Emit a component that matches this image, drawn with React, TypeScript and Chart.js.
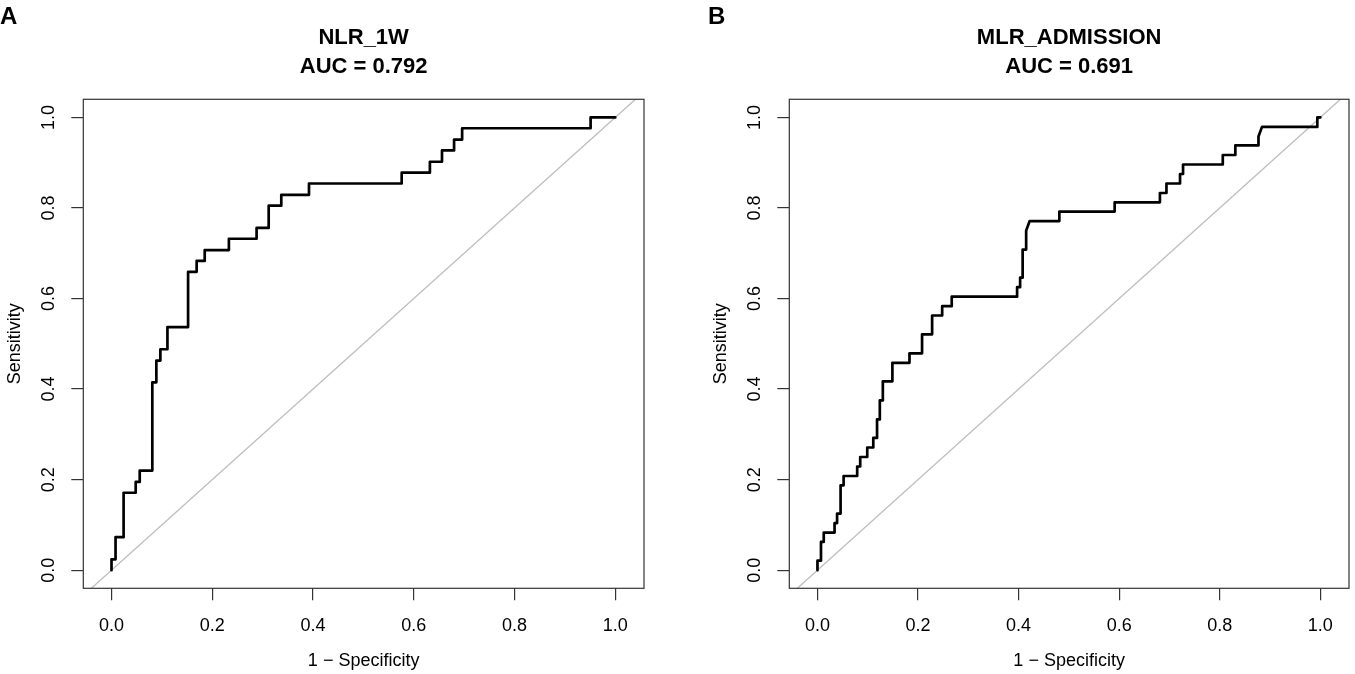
import React, { useEffect, useRef } from "react";
import { Chart, registerables } from "chart.js";

Chart.register(...registerables);

// ---------- data (ROC curve vertices: 1 - specificity, sensitivity) ----------
const fprA = [0, 0, 0.008, 0.008, 0.024, 0.024, 0.048, 0.048, 0.056, 0.056, 0.081, 0.081, 0.089, 0.089, 0.097, 0.097, 0.111, 0.111, 0.152, 0.152, 0.169, 0.169, 0.185, 0.185, 0.233, 0.233, 0.288, 0.288, 0.312, 0.312, 0.337, 0.337, 0.392, 0.392, 0.576, 0.576, 0.632, 0.632, 0.656, 0.656, 0.68, 0.68, 0.696, 0.696, 0.951, 0.951, 1.0];
const tprA = [0, 0.024, 0.024, 0.073, 0.073, 0.171, 0.171, 0.195, 0.195, 0.22, 0.22, 0.415, 0.415, 0.463, 0.463, 0.488, 0.488, 0.537, 0.537, 0.659, 0.659, 0.683, 0.683, 0.707, 0.707, 0.732, 0.732, 0.756, 0.756, 0.805, 0.805, 0.829, 0.829, 0.854, 0.854, 0.878, 0.878, 0.902, 0.902, 0.927, 0.927, 0.951, 0.951, 0.976, 0.976, 1.0, 1.0];

const fprB = [0, 0, 0.007, 0.007, 0.0125, 0.0125, 0.034, 0.034, 0.039, 0.039, 0.046, 0.046, 0.052, 0.052, 0.079, 0.079, 0.085, 0.085, 0.099, 0.099, 0.111, 0.111, 0.1185, 0.1185, 0.124, 0.124, 0.13, 0.13, 0.149, 0.149, 0.183, 0.183, 0.208, 0.208, 0.228, 0.228, 0.248, 0.248, 0.267, 0.267, 0.397, 0.397, 0.403, 0.403, 0.408, 0.408, 0.415, 0.415, 0.422, 0.481, 0.481, 0.591, 0.591, 0.681, 0.681, 0.694, 0.694, 0.721, 0.721, 0.727, 0.727, 0.806, 0.806, 0.831, 0.831, 0.877, 0.877, 0.884, 0.994, 0.994, 1.0];
const tprB = [0, 0.021, 0.021, 0.0625, 0.0625, 0.083, 0.083, 0.104, 0.104, 0.125, 0.125, 0.1875, 0.1875, 0.208, 0.208, 0.229, 0.229, 0.25, 0.25, 0.271, 0.271, 0.292, 0.292, 0.333, 0.333, 0.375, 0.375, 0.417, 0.417, 0.458, 0.458, 0.479, 0.479, 0.521, 0.521, 0.5625, 0.5625, 0.583, 0.583, 0.604, 0.604, 0.625, 0.625, 0.646, 0.646, 0.708, 0.708, 0.75, 0.771, 0.771, 0.792, 0.792, 0.8125, 0.8125, 0.833, 0.833, 0.854, 0.854, 0.875, 0.875, 0.896, 0.896, 0.917, 0.917, 0.938, 0.938, 0.958, 0.979, 0.979, 1.0, 1.0];

const tickValues = [0, 0.2, 0.4, 0.6, 0.8, 1.0];
const titleA = ["NLR_1W", "AUC = 0.792"];
const titleB = ["MLR_ADMISSION", "AUC = 0.691"];
const xLabel = "1 \u2212 Specificity";
const yLabel = "Sensitivity";

const FONT = "'Liberation Sans', Arial, Helvetica, sans-serif";

type PanelProps = {
  fpr: number[];
  tpr: number[];
  title: string[];
  letter: string;
  left: number;
  width: number;
  padRight: number;
  letterX: number;
};

function Panel({ fpr, tpr, title, letter, left, width, padRight, letterX }: PanelProps) {
  const ref = useRef<HTMLCanvasElement>(null);

  useEffect(() => {
    if (!ref.current) return;

    const rocPlugin = {
      id: "rocDecor",
      beforeDatasetsDraw(chart: any) {
        const { ctx, chartArea: a, scales } = chart;
        const x = scales.x;
        const y = scales.y;
        ctx.save();
        ctx.beginPath();
        ctx.rect(a.left, a.top, a.right - a.left, a.bottom - a.top);
        ctx.clip();
        const lo = Math.min(x.min, y.min);
        const hi = Math.max(x.max, y.max);
        ctx.strokeStyle = "#bdbdbd";
        ctx.lineWidth = 1.3;
        ctx.beginPath();
        ctx.moveTo(x.getPixelForValue(lo), y.getPixelForValue(lo));
        ctx.lineTo(x.getPixelForValue(hi), y.getPixelForValue(hi));
        ctx.stroke();
        ctx.restore();
      },
      afterDraw(chart: any) {
        const { ctx, chartArea: a } = chart;
        ctx.save();
        ctx.strokeStyle = "#333333";
        ctx.lineWidth = 1.2;
        ctx.strokeRect(a.left, a.top, a.right - a.left, a.bottom - a.top);
        ctx.fillStyle = "#000";
        ctx.font = `bold 24px ${FONT}`;
        ctx.textBaseline = "alphabetic";
        ctx.textAlign = "left";
        ctx.fillText(letter, letterX, 24);
        ctx.restore();
      },
    };

    const chart = new Chart(ref.current, {
      type: "line",
      data: {
        datasets: [
          {
            data: fpr.map((v, i) => ({ x: v, y: tpr[i] })),
            borderColor: "#000",
            borderWidth: 2.7,
            pointRadius: 0,
            tension: 0,
            fill: false,
            borderCapStyle: "round",
            borderJoinStyle: "round",
          },
        ],
      },
      options: {
        responsive: false,
        animation: false,
        events: [],
        layout: { padding: { left: 0, right: padRight, top: 0, bottom: 0 } },
        plugins: {
          legend: { display: false },
          tooltip: { enabled: false },
          title: {
            display: true,
            text: title,
            fullSize: false,
            color: "#000",
            font: { family: FONT, size: 22, weight: "bold", lineHeight: 1.286 },
            padding: { top: 24.0, bottom: 18.7 },
          },
        },
        scales: {
          x: {
            type: "linear",
            position: "bottom",
            min: -0.056,
            max: 1.057,
            afterBuildTicks: (s: any) => {
              s.ticks = tickValues.map((v) => ({ value: v }));
            },
            afterFit: (s: any) => {
              s.height = 85.7;
            },
            ticks: {
              callback: (v: any) => Number(v).toFixed(1),
              color: "#000",
              font: { family: FONT, size: 18 },
              padding: 15.0,
              maxRotation: 0,
              minRotation: 0,
              autoSkip: false,
            },
            grid: {
              drawOnChartArea: false,
              drawTicks: true,
              tickLength: 12,
              color: "#333333",
              lineWidth: 1.2,
            },
            border: { display: false },
            title: {
              display: true,
              text: xLabel,
              color: "#000",
              font: { family: FONT, size: 18 },
              padding: { top: 0, bottom: 2.1 },
            },
          },
          y: {
            type: "linear",
            position: "left",
            min: -0.04,
            max: 1.04,
            afterBuildTicks: (s: any) => {
              s.ticks = tickValues.map((v) => ({ value: v }));
            },
            afterFit: (s: any) => {
              s.width = 83.3;
            },
            ticks: {
              callback: (v: any) => Number(v).toFixed(1),
              color: "#000",
              font: { family: FONT, size: 18 },
              padding: 9.4,
              minRotation: 90,
              maxRotation: 90,
              crossAlign: "center",
              autoSkip: false,
            },
            grid: {
              drawOnChartArea: false,
              drawTicks: true,
              tickLength: 12,
              color: "#333333",
              lineWidth: 1.2,
            },
            border: { display: false },
            title: {
              display: true,
              text: yLabel,
              color: "#000",
              font: { family: FONT, size: 18 },
              padding: { top: 4.3, bottom: 0 },
            },
          },
        },
      },
      plugins: [rocPlugin],
    } as any);

    return () => chart.destroy();
  }, [fpr, tpr, title, letter, padRight, letterX]);

  return (
    <canvas
      ref={ref}
      width={width}
      height={674}
      style={{ position: "absolute", left, top: 0, width, height: 674 }}
    />
  );
}

export default function App() {
  return (
    <div
      style={{
        position: "absolute",
        left: 0,
        top: 0,
        width: 1355,
        height: 674,
        background: "#fff",
        overflow: "hidden",
      }}
    >
      <Panel fpr={fprA} tpr={tprA} title={titleA} letter="A" left={0} width={677} padRight={33} letterX={0} />
      <Panel fpr={fprB} tpr={tprB} title={titleB} letter="B" left={706} width={649} padRight={6} letterX={2} />
    </div>
  );
}
